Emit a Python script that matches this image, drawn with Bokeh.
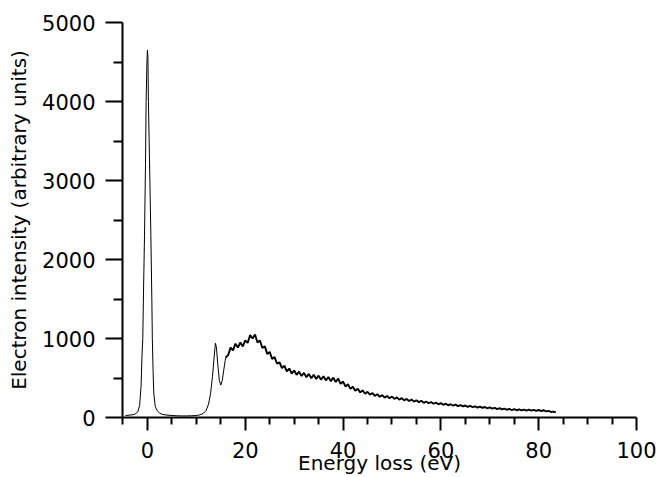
from bokeh.plotting import figure
from bokeh.models import Range1d, FixedTicker
from bokeh.embed import file_html
from bokeh.resources import INLINE

# ---- data (energy loss in eV, intensity in arbitrary units) ----
energy_low = [-4.5, -4.0, -3.0, -2.5, -2.0, -1.6, -1.3, -1.1, -0.95, -0.8,
              -0.6, -0.4, -0.27, -0.1, 0.0, 0.1, 0.2, 0.35, 0.5, 0.7,
              0.9, 1.0, 1.15, 1.3, 1.6, 2.0, 2.5, 3.0, 4.0, 5.0,
              6.0, 7.0, 8.0, 9.0, 10.0, 10.5, 11.0, 11.5, 12.0, 12.5,
              12.9, 13.3, 13.6, 13.9, 14.1, 14.4, 14.7, 15.0, 15.3, 15.6,
              15.9, 16.0]
intensity_low = [25, 28, 35, 45, 70, 150, 400, 800, 1000, 1600,
                 2300, 3200, 4000, 4500, 4650, 4550, 4000, 3500, 3000, 2300,
                 1500, 1000, 600, 300, 140, 85, 55, 40, 30, 25,
                 22, 20, 20, 22, 25, 30, 40, 55, 90, 170,
                 300, 520, 740, 940, 890, 660, 470, 410, 470, 600,
                 720, 760]

energy_tail = [16.0, 16.5, 17.0, 17.5, 18.0, 18.5, 19.0, 19.5, 20.0, 20.5,
               21.0, 21.5, 22.0, 22.5, 23.0, 23.5, 24.0, 24.5, 25.0, 25.5,
               26.0, 26.5, 27.0, 27.5, 28.0, 28.5, 29.0, 29.5, 30.0, 30.5,
               31.0, 31.5, 32.0, 32.5, 33.0, 33.5, 34.0, 34.5, 35.0, 35.5,
               36.0, 36.5, 37.0, 37.5, 38.0, 38.5, 39.0, 39.5, 40.0, 40.5,
               41.0, 41.5, 42.0, 42.5, 43.0, 43.5, 44.0, 44.5, 45.0, 45.5,
               46.0, 46.5, 47.0, 47.5, 48.0, 48.5, 49.0, 49.5, 50.0, 50.5,
               51.0, 51.5, 52.0, 52.5, 53.0, 53.5, 54.0, 54.5, 55.0, 55.5,
               56.0, 56.5, 57.0, 57.5, 58.0, 58.5, 59.0, 59.5, 60.0, 60.5,
               61.0, 61.5, 62.0, 62.5, 63.0, 63.5, 64.0, 64.5, 65.0, 65.5,
               66.0, 66.5, 67.0, 67.5, 68.0, 68.5, 69.0, 69.5, 70.0, 70.5,
               71.0, 71.5, 72.0, 72.5, 73.0, 73.5, 74.0, 74.5, 75.0, 75.5,
               76.0, 76.5, 77.0, 77.5, 78.0, 78.5, 79.0, 79.5, 80.0, 80.5,
               81.0, 81.5, 82.0, 82.5, 83.0, 83.5]
intensity_tail = [760, 790, 885, 850, 935, 885, 950, 900, 975, 945,
                  1045, 1000, 1050, 950, 975, 880, 900, 805, 830, 740,
                  765, 680, 700, 625, 655, 585, 620, 555, 595, 540,
                  580, 525, 565, 510, 552, 497, 540, 487, 530, 478,
                  522, 470, 512, 460, 505, 450, 492, 425, 455, 392,
                  420, 362, 390, 338, 365, 318, 343, 300, 325, 288,
                  310, 274, 295, 262, 283, 252, 273, 243, 265, 235,
                  255, 226, 245, 217, 235, 209, 227, 201, 219, 194,
                  212, 186, 203, 180, 196, 174, 188, 167, 182, 161,
                  175, 155, 168, 149, 163, 144, 158, 140, 152, 135,
                  147, 130, 142, 126, 138, 121, 133, 116, 128, 112,
                  123, 107, 118, 102, 113, 98, 108, 94, 105, 92,
                  103, 90, 101, 88, 99, 86, 97, 84, 95, 82,
                  92, 78, 84, 70, 75, 64]

x_major = [0, 20, 40, 60, 80, 100]
x_minor = [-5, 5, 10, 15, 25, 30, 35, 45, 50, 55, 65, 70, 75, 85, 90, 95]
y_major = [0, 1000, 2000, 3000, 4000, 5000]
y_minor = [500, 1500, 2500, 3500, 4500]

x_label = "Energy loss (eV)"
y_label = "Electron intensity (arbitrary units)"

p = figure(width=656, height=477, output_backend="svg", toolbar_location=None,
           x_range=Range1d(-5.1, 100), y_range=Range1d(0, 5000),
           min_border_left=122, min_border_right=20,
           min_border_top=22, min_border_bottom=60)
p.outline_line_color = None
p.grid.visible = False
p.background_fill_color = "white"
p.border_fill_color = "white"

p.line(energy_low, intensity_low, line_color="black", line_width=1)
p.line(energy_tail, intensity_tail, line_color="black", line_width=1.9)

FONT = "DejaVu Sans"

xa = p.xaxis[0]
xa.ticker = FixedTicker(ticks=x_major, minor_ticks=x_minor)
xa.axis_label = x_label
xa.axis_line_width = 2
xa.major_tick_line_width = 2
xa.minor_tick_line_width = 2
xa.major_tick_out = 13
xa.major_tick_in = 0
xa.minor_tick_out = 7
xa.minor_tick_in = 0
xa.major_label_standoff = 11
xa.axis_label_standoff = -10
xa.major_label_text_font = FONT
xa.major_label_text_font_size = "21px"
xa.major_label_text_color = "black"
xa.axis_label_text_font = FONT
xa.axis_label_text_font_size = "20px"
xa.axis_label_text_font_style = "normal"
xa.axis_label_text_color = "black"

ya = p.yaxis[0]
ya.ticker = FixedTicker(ticks=y_major, minor_ticks=y_minor)
ya.axis_label = y_label
ya.axis_line_width = 2
ya.major_tick_line_width = 2
ya.minor_tick_line_width = 2
ya.major_tick_out = 17
ya.major_tick_in = 0
ya.minor_tick_out = 9
ya.minor_tick_in = 0
ya.major_label_standoff = 10
ya.axis_label_standoff = 8
ya.major_label_text_font = FONT
ya.major_label_text_font_size = "21px"
ya.major_label_text_color = "black"
ya.axis_label_text_font = FONT
ya.axis_label_text_font_size = "20px"
ya.axis_label_text_font_style = "normal"
ya.axis_label_text_color = "black"

open("out.html", "w").write(file_html(p, INLINE))
